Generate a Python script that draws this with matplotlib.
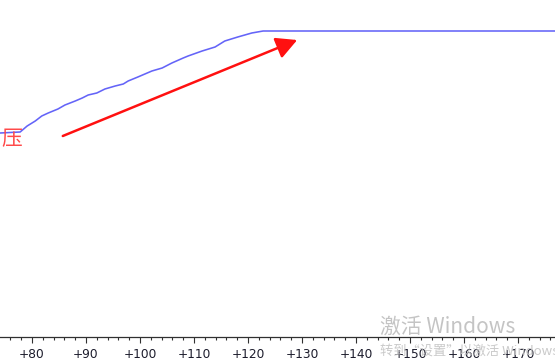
import matplotlib
matplotlib.use('Agg')
import matplotlib.pyplot as plt
from matplotlib.ticker import MultipleLocator, FuncFormatter


# =========================
# 数据 (从截图读取)
# =========================
x_vals = [74.1, 77.8, 79.1, 80.6, 81.8, 83.0, 84.8, 86.1, 88.0, 89.3,
          90.4, 92.0, 93.5, 95.4, 96.9, 97.8, 99.6, 102.2, 104.1, 105.9,
          108.0, 108.9, 111.5, 113.9, 115.7, 118.1, 120.7, 122.8, 178.0]
y_vals = [204, 205, 211, 216, 221, 224, 228, 232, 236, 239,
          242, 244, 248, 251, 253, 256, 260, 266, 269, 274,
          279, 281, 286, 290, 296, 300, 304, 306, 306]

arrow_start = (85.7, 201)
arrow_end = (129.1, 297)

marker_label = '压'
marker_pos = (76.2, 198)

x_min, x_max = 74.07, 176.85
y_min, y_max = 0, 337


# =========================
# 画图
# =========================
fig = plt.figure(figsize=(5.55, 3.61), dpi=100)
ax = fig.add_axes([0, 24 / 361, 1, 337 / 361])

ax.plot(x_vals, y_vals, color='#6464f8', lw=1.15)

ax.annotate('', xy=arrow_end, xytext=arrow_start,
            arrowprops=dict(arrowstyle='-|>,head_length=1.05,head_width=0.55',
                            color='#ff1010', lw=1.8, mutation_scale=12,
                            shrinkA=0, shrinkB=0))

ax.text(marker_pos[0], marker_pos[1], marker_label, color='#ff4a4a',
        fontsize=15, ha='center', va='center',
        family=['Noto Sans CJK SC', 'DejaVu Sans'])

ax.set_xlim(x_min, x_max)
ax.set_ylim(y_min, y_max)

for side in ['left', 'top', 'right']:
    ax.spines[side].set_visible(False)
ax.spines['bottom'].set_color('#303030')
ax.spines['bottom'].set_linewidth(0.9)

ax.xaxis.set_major_locator(MultipleLocator(10))
ax.xaxis.set_minor_locator(MultipleLocator(2))
ax.xaxis.set_major_formatter(FuncFormatter(lambda v, p: '+%d' % v))
ax.tick_params(axis='x', which='major', length=4.5, width=0.8,
               color='#303030', labelsize=8.8, labelcolor='#1c1c2c', pad=3.5)
ax.tick_params(axis='x', which='minor', length=2.2, width=0.8, color='#303030')
ax.set_yticks([])

# Windows 激活水印
fig.text(380 / 555, (361 - 327) / 361, '激活 Windows', color='#c4c4c4',
         fontsize=15, ha='left', va='center',
         family=['Noto Sans CJK SC', 'DejaVu Sans'])
fig.text(380 / 555, (361 - 351) / 361, '转到“设置”以激活 Windows。',
         color='#c4c4c4', fontsize=9.5, ha='left', va='center', alpha=0.9,
         family=['Noto Sans CJK SC', 'DejaVu Sans'])

fig.savefig('out.png', dpi=100)
